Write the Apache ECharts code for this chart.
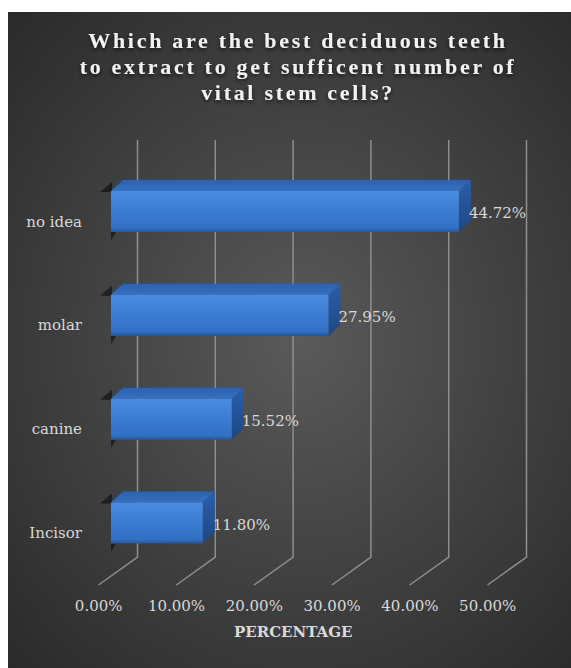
<!DOCTYPE html>
<html>
<head>
<meta charset="utf-8">
<script src="https://cdn.jsdelivr.net/npm/echarts@6/dist/echarts.min.js"></script>
<style>
  html, body { margin: 0; padding: 0; background: #ffffff; }
  #chart {
    position: absolute; left: 8px; top: 12px; width: 563px; height: 656px;
    background: radial-gradient(ellipse farthest-corner at 52% 50%, #5a5a5a 0%, #444444 45%, #2a2a2a 100%);
  }
  /* spaced-out letters for the heading */
  #chart text[style*="22px"] { letter-spacing: 2.7px; }
</style>
</head>
<body>
<div id="chart"></div>
<script>
// Survey answers and their share of respondents (%)
const categories = ['no idea', 'molar', 'canine', 'Incisor'];
const percentages = [44.72, 27.95, 15.52, 11.80];
const tickValues = [0, 10, 20, 30, 40, 50];
const titleLines = [
  'Which are the best deciduous teeth',
  'to extract to get sufficent number of',
  'vital stem cells?'
];
const axisTitle = 'PERCENTAGE';

const labelColor = '#d9d9d9';
const serif = 'DejaVu Serif';
const pct = v => v.toFixed(2) + '%';

// depth of the 3D box (top / side faces) and of the floor
const BOX_DX = 12, BOX_DY = 11;
const FLOOR_DX = -39, FLOOR_DY = 28;

const chart = echarts.init(document.getElementById('chart'), null, { renderer: 'svg' });

const valueAxisBase = { type: 'value', min: 0, max: 50, interval: 10 };

chart.setOption({
  backgroundColor: 'transparent',
  animation: false,
  title: {
    text: titleLines.join('\n'),
    left: 285,
    top: 10,
    textAlign: 'center',
    textStyle: {
      color: '#f2f2f2',
      fontFamily: 'Liberation Serif',
      fontWeight: 'bold',
      fontSize: 22,
      lineHeight: 26,
      textShadowColor: 'rgba(0,0,0,0.7)',
      textShadowBlur: 4,
      textShadowOffsetY: 2
    }
  },
  grid: [
    // back wall with the vertical gridlines
    { left: 129.5, width: 389, top: 128, bottom: 111 },
    // bar front faces
    { left: 103, width: 389, top: 147.6, bottom: 93 },
    // front edge of the floor carrying the tick labels
    { left: 90.7, width: 389, top: 572, bottom: 83 }
  ],
  xAxis: [
    Object.assign({}, valueAxisBase, {
      gridIndex: 0, axisLine: { show: false }, axisTick: { show: false },
      axisLabel: { show: false }, splitLine: { show: false }
    }),
    Object.assign({}, valueAxisBase, {
      gridIndex: 1, axisLine: { show: false }, axisTick: { show: false },
      axisLabel: { show: false }, splitLine: { show: false }
    }),
    Object.assign({}, valueAxisBase, {
      gridIndex: 2, position: 'bottom',
      axisLine: { show: false }, axisTick: { show: false }, splitLine: { show: false },
      axisLabel: {
        formatter: v => pct(v), color: labelColor,
        fontFamily: serif, fontSize: 15, margin: 13
      },
      name: axisTitle, nameLocation: 'middle', nameGap: 39,
      nameTextStyle: { color: labelColor, fontFamily: serif, fontWeight: 'bold', fontSize: 15 }
    })
  ],
  yAxis: [
    { type: 'value', gridIndex: 0, min: 0, max: 1, show: false },
    {
      type: 'category', gridIndex: 1, data: categories, inverse: true,
      axisLine: { show: false }, axisTick: { show: false }, splitLine: { show: false },
      axisLabel: {
        color: labelColor, fontFamily: serif, fontSize: 15,
        margin: 29, verticalAlign: 'top', lineHeight: 18, padding: [1, 0, 0, 0]
      }
    },
    { type: 'value', gridIndex: 2, min: 0, max: 1, show: false }
  ],
  series: [
    {
      // wall gridlines bending forward onto the floor
      type: 'custom',
      xAxisIndex: 0, yAxisIndex: 0,
      silent: true,
      data: tickValues.map(v => [v]),
      renderItem: (params, api) => {
        const v = api.value(0);
        const top = api.coord([v, 1]);
        const bottom = api.coord([v, 0]);
        return {
          type: 'polyline',
          shape: {
            points: [top, bottom, [bottom[0] + FLOOR_DX, bottom[1] + FLOOR_DY]]
          },
          style: { stroke: '#8e8e8e', lineWidth: 1.5, fill: null }
        };
      }
    },
    {
      // 3D boxes
      type: 'custom',
      xAxisIndex: 1, yAxisIndex: 1,
      data: percentages.map((v, i) => [v, i]),
      encode: { x: 0, y: 1 },
      renderItem: (params, api) => {
        const v = api.value(0);
        const i = api.value(1);
        const start = api.coord([0, i]);
        const end = api.coord([v, i]);
        const h = api.size([0, 1])[1] * 0.395;
        const x0 = start[0], x1 = end[0];
        const yt = start[1] - h / 2, yb = start[1] + h / 2;
        return {
          type: 'group',
          children: [
            {
              type: 'polygon',
              shape: { points: [[x0 - 11, yt + 1], [x0 + 1, yt - 9], [x0 + 1, yt + 1]] },
              style: { fill: 'rgba(20,20,20,0.75)' }
            },
            {
              type: 'polygon',
              shape: { points: [[x0, yb], [x0 + 5, yb], [x0, yb + 8]] },
              style: { fill: 'rgba(20,20,20,0.75)' }
            },
            {
              type: 'polygon',
              shape: { points: [[x0, yt], [x1, yt], [x1 + BOX_DX, yt - BOX_DY], [x0 + BOX_DX, yt - BOX_DY]] },
              style: {
                fill: new echarts.graphic.LinearGradient(0, 0, 0, 1, [
                  { offset: 0, color: '#2c62ae' },
                  { offset: 1, color: '#3670c0' }
                ])
              }
            },
            {
              type: 'polygon',
              shape: { points: [[x1, yt], [x1 + BOX_DX, yt - BOX_DY], [x1 + BOX_DX, yb - BOX_DY], [x1, yb]] },
              style: {
                fill: new echarts.graphic.LinearGradient(0, 0, 0, 1, [
                  { offset: 0, color: '#2a5fac' },
                  { offset: 1, color: '#1d4785' }
                ])
              }
            },
            {
              type: 'rect',
              shape: { x: x0, y: yt, width: x1 - x0, height: yb - yt },
              style: {
                fill: new echarts.graphic.LinearGradient(0, 0, 0, 1, [
                  { offset: 0, color: '#4a8ce0' },
                  { offset: 0.5, color: '#3b7cd2' },
                  { offset: 0.9, color: '#3170c4' },
                  { offset: 1, color: '#25569a' }
                ])
              }
            },
            {
              type: 'text',
              x: x1 + 10,
              y: start[1] + 1.5,
              style: {
                text: pct(v),
                fill: labelColor,
                fontFamily: serif,
                fontSize: 15,
                align: 'left',
                verticalAlign: 'middle'
              }
            }
          ]
        };
      }
    }
  ]
});
</script>
</body>
</html>
